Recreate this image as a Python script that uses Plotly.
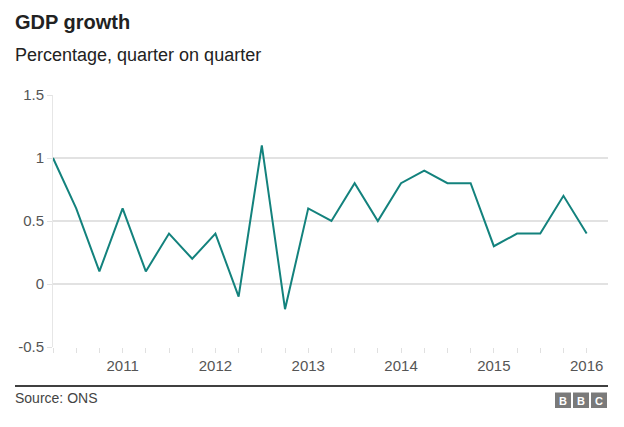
import plotly.graph_objects as go

quarters = ["2010 Q2", "2010 Q3", "2010 Q4",
            "2011 Q1", "2011 Q2", "2011 Q3", "2011 Q4",
            "2012 Q1", "2012 Q2", "2012 Q3", "2012 Q4",
            "2013 Q1", "2013 Q2", "2013 Q3", "2013 Q4",
            "2014 Q1", "2014 Q2", "2014 Q3", "2014 Q4",
            "2015 Q1", "2015 Q2", "2015 Q3", "2015 Q4",
            "2016 Q1"]
growth = [1.0, 0.6, 0.1, 0.6, 0.1, 0.4, 0.2, 0.4, -0.1, 1.1, -0.2, 0.6,
          0.5, 0.8, 0.5, 0.8, 0.9, 0.8, 0.8, 0.3, 0.4, 0.4, 0.7, 0.4]
y_ticks = [-0.5, 0, 0.5, 1, 1.5]
y_tick_labels = ["-0.5", "0", "0.5", "1", "1.5"]
x_tick_labels = [q[:4] if q.endswith("Q1") else "" for q in quarters]

FONT = "Liberation Sans, Arial, sans-serif"
TEAL = "#13827d"

fig = go.Figure()
fig.add_trace(go.Scatter(
    x=quarters, y=growth, mode="lines",
    line=dict(color=TEAL, width=2),
    hoverinfo="x+y",
))

W, H = 624, 427
ml, mr, mt, mb = 53, 16, 95, 80
PW, PH = W - ml - mr, H - mt - mb

fig.update_layout(
    width=W, height=H,
    margin=dict(l=ml, r=mr, t=mt, b=mb, autoexpand=False),
    paper_bgcolor="white", plot_bgcolor="white",
    showlegend=False,
    font=dict(family=FONT, color="#555555"),
    xaxis=dict(
        type="category",
        range=[0, 23.92],
        tickmode="array", tickvals=quarters, ticktext=x_tick_labels,
        ticks="outside", ticklen=5, tickcolor="#e0e0e0", tickwidth=1,
        tickfont=dict(size=15, color="#555555"),
        showgrid=False, zeroline=False, showline=False,
        fixedrange=True,
    ),
    yaxis=dict(
        range=[-0.5, 1.5],
        tickmode="array", tickvals=y_ticks, ticktext=y_tick_labels,
        ticks="outside", ticklen=5, tickcolor="#e2e2e2", tickwidth=1,
        tickfont=dict(size=15, color="#555555"),
        showgrid=True, gridcolor="#e2e2e2", gridwidth=2,
        zeroline=False,
        showline=True, linecolor="#e6e6e6", linewidth=1,
        fixedrange=True,
    ),
)

def px(x):
    return (x - ml) / PW

def py(y):
    return (H - mb - y) / PH

annotations = [
    dict(text="<b>GDP growth</b>", x=px(13), y=py(22), xanchor="left", yanchor="middle",
         font=dict(size=20, color="#222222", family=FONT)),
    dict(text="Percentage, quarter on quarter", x=px(13), y=py(55), xanchor="left", yanchor="middle",
         font=dict(size=18, color="#222222", family=FONT)),
    dict(text="Source: ONS", x=px(13), y=py(398), xanchor="left", yanchor="middle",
         font=dict(size=14, color="#444444", family=FONT)),
]
shapes = [
    dict(type="line", xref="paper", yref="paper", x0=px(15), x1=px(608), y0=py(386), y1=py(386),
         line=dict(color="#000000", width=1.5)),
]
for i, letter in enumerate(["B", "B", "C"]):
    x0 = 555 + i * 18
    shapes.append(dict(type="rect", xref="paper", yref="paper",
                       x0=px(x0), x1=px(x0 + 16), y0=py(408), y1=py(392.5),
                       fillcolor="#7a7a7a", line=dict(width=0)))
    annotations.append(dict(text="<b>%s</b>" % letter, x=px(x0 + 8), y=py(400.5),
                            xanchor="center", yanchor="middle",
                            font=dict(size=11, color="white", family=FONT)))

for a in annotations:
    a.update(xref="paper", yref="paper", showarrow=False)
fig.update_layout(annotations=annotations, shapes=shapes)

fig.write_html("out.html", config={"displayModeBar": False},
               post_script="document.body.style.margin='0';document.body.style.overflow='hidden';")
